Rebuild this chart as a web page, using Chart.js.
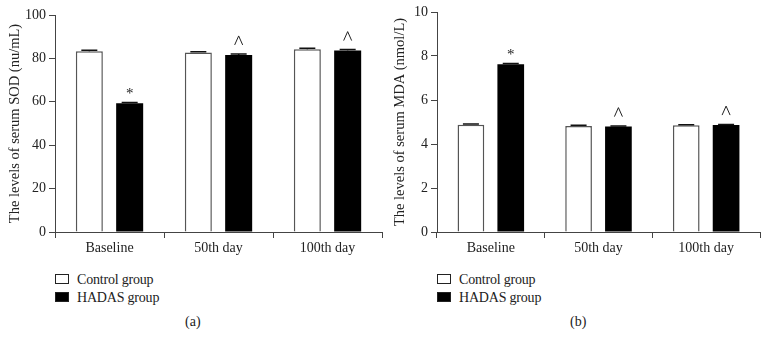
<!DOCTYPE html>
<html>
<head>
<meta charset="utf-8">
<script src="https://cdn.jsdelivr.net/npm/chart.js@4.4.0/dist/chart.umd.min.js"></script>
<style>
    body { margin: 0; background: #fff; font-family: "Liberation Serif", serif; }
    #wrap { position: relative; width: 770px; height: 349px; }
    .box { position: absolute; top: 0; width: 385px; height: 260px; }
    .legend { position: absolute; font-size: 14px; color: #222; line-height: 18px; letter-spacing: -0.2px; }
    .legend span.sw { display: inline-block; width: 12px; height: 8px; border: 1px solid #222; margin-right: 8px; vertical-align: 0px; }
    .cap { position: absolute; top: 314px; font-size: 14px; color: #222; }
</style>
</head>
<body>
<div id="wrap">
    <div class="box" style="left:0"><canvas id="chartSOD" width="385" height="260"></canvas></div>
    <div class="box" style="left:385px"><canvas id="chartMDA" width="385" height="260"></canvas></div>

    <div class="legend" style="left:55px; top:271px">
        <div><span class="sw" style="background:#fff"></span>Control group</div>
        <div><span class="sw" style="background:#000"></span>HADAS group</div>
    </div>
    <div class="legend" style="left:437px; top:271px">
        <div><span class="sw" style="background:#fff"></span>Control group</div>
        <div><span class="sw" style="background:#000"></span>HADAS group</div>
    </div>
    <div class="cap" style="left:185px">(a)</div>
    <div class="cap" style="left:570px">(b)</div>
</div>

<script>
// Datos
const categorias = ['Baseline', '50th day', '100th day'];

const sodControl = [83.3, 82.7, 84.2];
const sodHadas = [59.3, 81.6, 83.6];
const sodControlErr = [0.5, 0.4, 0.5];
const sodHadasErr = [0.4, 0.4, 0.5];
const sodMarcas = ['*', '^', '^'];

const mdaControl = [4.88, 4.82, 4.85];
const mdaHadas = [7.63, 4.79, 4.86];
const mdaControlErr = [0.03, 0.03, 0.03];
const mdaHadasErr = [0.03, 0.03, 0.03];
const mdaMarcas = ['*', '^', '^'];

// Barras de error + marcas sobre el grupo HADAS
const errorBarsPlugin = {
    id: 'errorBars',
    afterDatasetsDraw(chart, args, opts) {
        const ctx = chart.ctx;
        const y = chart.scales.y;
        ctx.save();
        chart.data.datasets.forEach((ds, di) => {
            const meta = chart.getDatasetMeta(di);
            meta.data.forEach((bar, i) => {
                const v = ds.data[i];
                const e = ds.errors[i];
                const yTop = y.getPixelForValue(v + e);
                const yBot = y.getPixelForValue(v);
                ctx.strokeStyle = '#111';
                ctx.lineWidth = 1.5;
                ctx.beginPath();
                ctx.moveTo(bar.x, yBot);
                ctx.lineTo(bar.x, yTop);
                ctx.moveTo(bar.x - 8, yTop);
                ctx.lineTo(bar.x + 8, yTop);
                ctx.stroke();
            });
        });
        const marcas = opts.marcas;
        const meta = chart.getDatasetMeta(1);
        ctx.fillStyle = '#222';
        ctx.textAlign = 'center';
        ctx.textBaseline = 'alphabetic';
        meta.data.forEach((bar, i) => {
            const m = marcas[i];
            if (m === '*') {
                ctx.font = '15px "Liberation Serif"';
                ctx.fillText('*', bar.x, bar.y - 5);
            } else {
                ctx.strokeStyle = '#222';
                ctx.lineWidth = 1;
                ctx.beginPath();
                ctx.moveTo(bar.x - 4, bar.y - 10);
                ctx.lineTo(bar.x, bar.y - 19);
                ctx.lineTo(bar.x + 4, bar.y - 10);
                ctx.stroke();
            }
        });
        ctx.restore();
    }
};

function graphicBars(id, control, hadas, controlErr, hadasErr, marcas, maxY, stepY, titulo, axisWidth, padTop, padRight) {
    const ctx = document.getElementById(id).getContext('2d');
    return new Chart(ctx, {
        type: 'bar',
        data: {
            labels: categorias,
            datasets: [
                {
                    label: 'Control group',
                    data: control,
                    errors: controlErr,
                    backgroundColor: '#fff',
                    borderColor: '#555',
                    borderWidth: 1.5,
                    borderSkipped: 'bottom',
                    categoryPercentage: 0.74,
                    barPercentage: 0.67
                },
                {
                    label: 'HADAS group',
                    data: hadas,
                    errors: hadasErr,
                    backgroundColor: '#000',
                    borderColor: '#000',
                    borderWidth: 0,
                    categoryPercentage: 0.74,
                    barPercentage: 0.67
                }
            ]
        },
        options: {
            responsive: false,
            animation: false,
            layout: { padding: { top: padTop, right: padRight, left: 0, bottom: 0 } },
            plugins: {
                legend: { display: false },
                tooltip: { enabled: false },
                errorBars: { marcas: marcas }
            },
            scales: {
                x: {
                    grid: { drawOnChartArea: false, drawTicks: true, tickLength: 6, color: '#444' },
                    border: { display: true, color: '#444', width: 1 },
                    ticks: { color: '#222', font: { family: 'Liberation Serif', size: 14 }, padding: 2 },
                    afterFit: (s) => { s.height = 28; }
                },
                y: {
                    min: 0,
                    max: maxY,
                    ticks: { stepSize: stepY, color: '#222', font: { family: 'Liberation Serif', size: 14 }, padding: 3 },
                    grid: { drawOnChartArea: false, drawTicks: true, tickLength: 6, color: '#444' },
                    border: { display: true, color: '#444', width: 1 },
                    title: {
                        display: true,
                        text: titulo,
                        color: '#222',
                        font: { family: 'Liberation Serif', size: 14.5 },
                        padding: { top: 6, bottom: 2 }
                    },
                    afterFit: (s) => { s.width = axisWidth; }
                }
            }
        },
        plugins: [errorBarsPlugin]
    });
}

graphicBars('chartSOD', sodControl, sodHadas, sodControlErr, sodHadasErr, sodMarcas, 100, 20,
    'The levels of serum SOD (nu/mL)', 55, 15, 3);
graphicBars('chartMDA', mdaControl, mdaHadas, mdaControlErr, mdaHadasErr, mdaMarcas, 10, 2,
    'The levels of serum MDA (nmol/L)', 52, 12, 10);
</script>
</body>
</html>
